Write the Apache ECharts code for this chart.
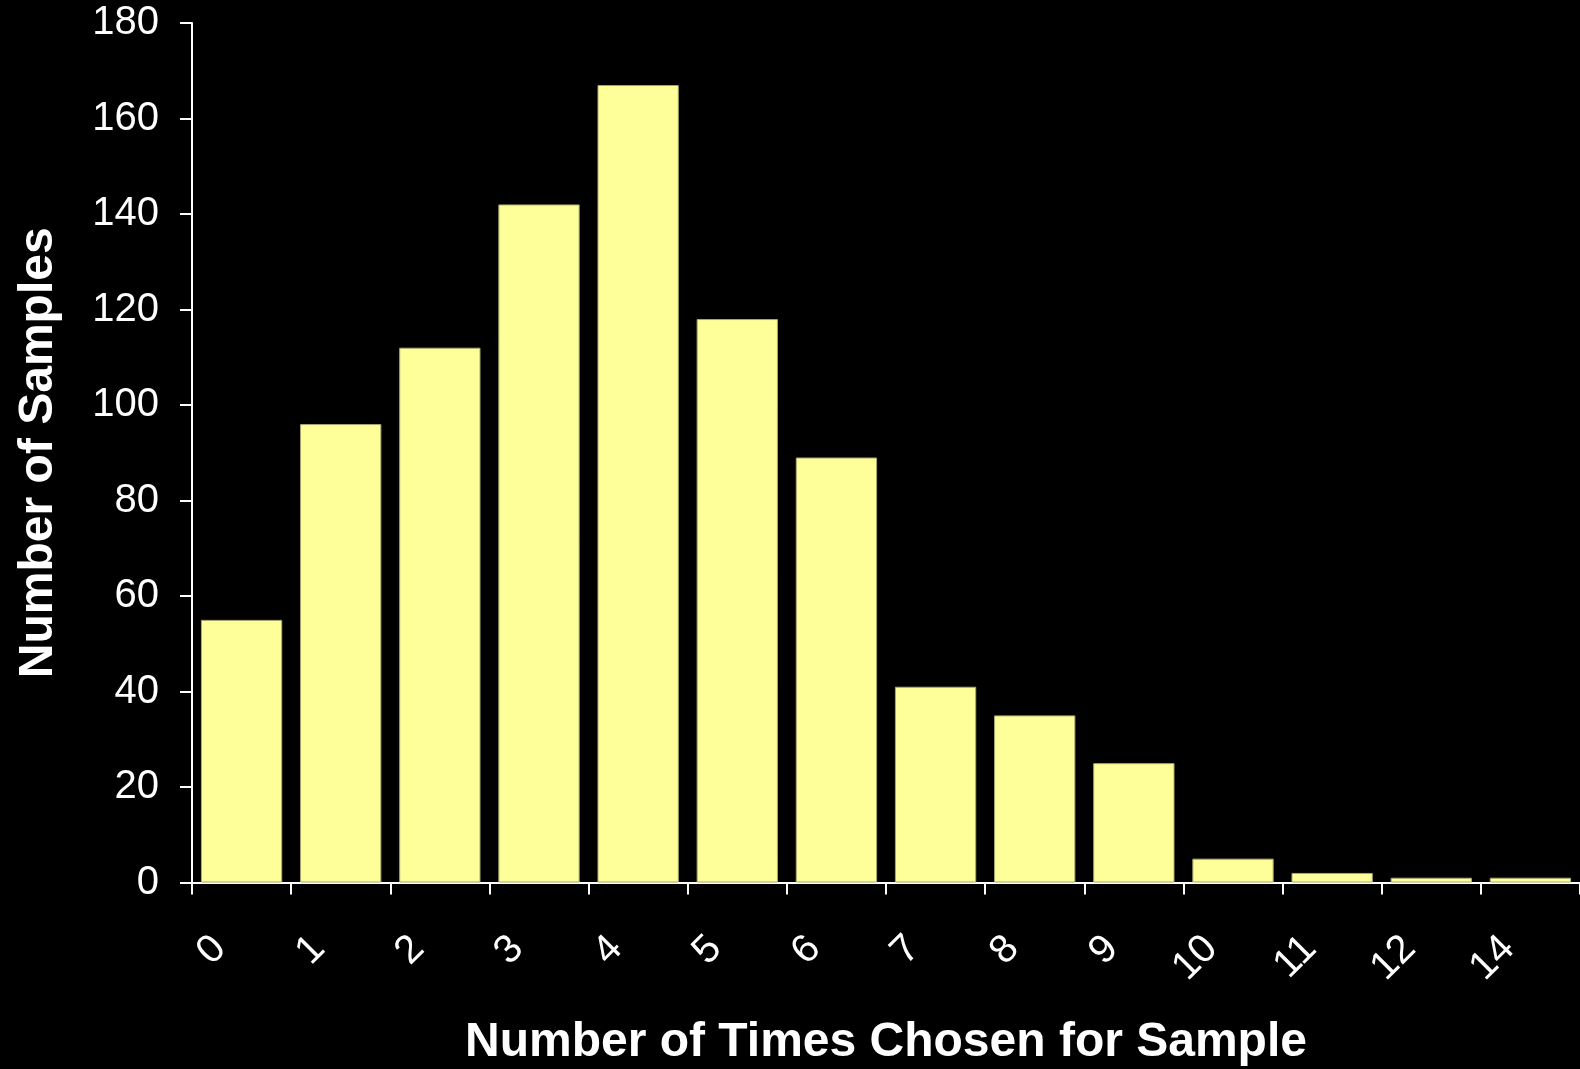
<!DOCTYPE html>
<html>
<head>
<meta charset="utf-8">
<script src="https://cdn.jsdelivr.net/npm/echarts@6/dist/echarts.min.js"></script>
<style>
html,body{margin:0;padding:0;background:#000;}
#c{width:1580px;height:1069px;}
</style>
</head>
<body>
<div id="c"></div>
<script>
var categories = ['0','1','2','3','4','5','6','7','8','9','10','11','12','14'];
var samples = [55, 96, 112, 142, 167, 118, 89, 41, 35, 25, 5, 2, 1, 1];
var yMin = 0, yMax = 180, yStep = 20;

var chart = echarts.init(document.getElementById('c'));
var font = '"Liberation Sans", Arial, Helvetica, sans-serif';
chart.setOption({
  backgroundColor: '#000000',
  animation: false,
  grid: {left: 192, right: 0, top: 23, bottom: 186.5, containLabel: false, outerBoundsMode: 'none'},
  xAxis: {
    type: 'category',
    data: categories,
    name: 'Number of Times Chosen for Sample',
    nameLocation: 'middle',
    nameGap: 136,
    nameTextStyle: {color: '#ffffff', fontSize: 48, fontWeight: 'bold', fontFamily: font},
    axisLine: {lineStyle: {color: '#ffffff', width: 2}},
    axisTick: {show: true, length: 12, lineStyle: {color: '#ffffff', width: 2}},
    axisLabel: {color: '#ffffff', fontSize: 40, fontFamily: font, rotate: 45, margin: 38, padding: [0, 31, 0, 0], interval: 0}
  },
  yAxis: {
    type: 'value',
    min: yMin, max: yMax, interval: yStep,
    name: 'Number of Samples',
    nameLocation: 'middle',
    nameGap: 129,
    nameTextStyle: {color: '#ffffff', fontSize: 48, fontWeight: 'bold', fontFamily: font},
    axisLine: {show: true, lineStyle: {color: '#ffffff', width: 2}},
    axisTick: {show: true, length: 12, lineStyle: {color: '#ffffff', width: 2}},
    axisLabel: {color: '#ffffff', fontSize: 40, fontFamily: font, margin: 33},
    splitLine: {show: false}
  },
  series: [{
    type: 'bar',
    data: samples,
    barCategoryGap: '18%',
    itemStyle: {color: '#FFFF99', borderColor: '#a8a870', borderWidth: 1}
  }]
});
</script>
</body>
</html>
